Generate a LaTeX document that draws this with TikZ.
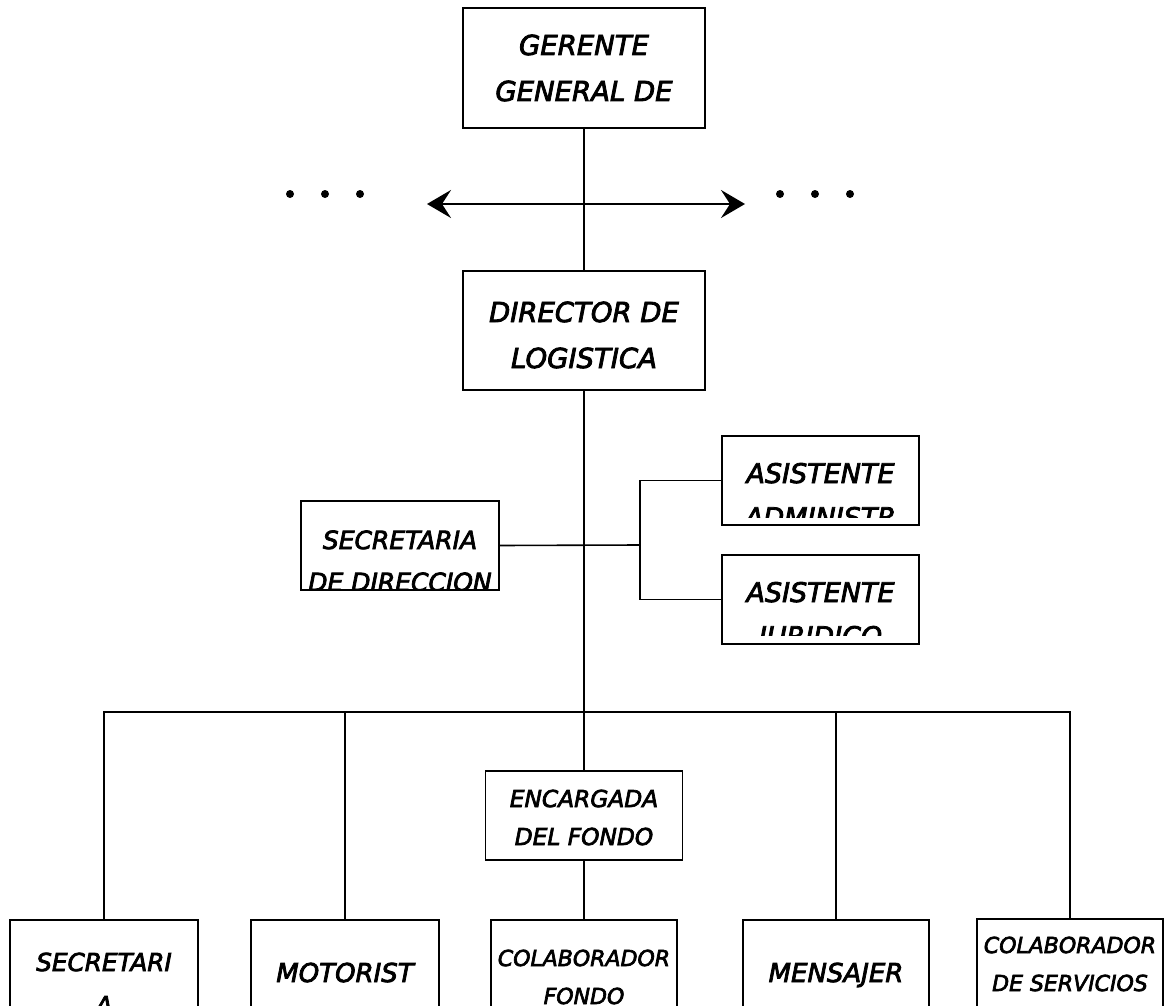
\documentclass[tikz,border=0pt]{standalone}
\usepackage{fontspec}
\newfontfamily\comic[FakeBold=3]{DejaVu Sans}
\usetikzlibrary{arrows.meta}
\tikzset{
 puesto/.style={draw, line width=1.6pt, inner sep=0pt},
 linea/.style={line width=1.6pt},
 texto/.style={anchor=base, inner sep=0pt},
 rotulo/.style n args={6}{path picture={
   \node[texto, font=\fontsize{#3}{#3}\comic\itshape] at ([yshift=-#4pt]path picture bounding box.north) {#1};
   \node[texto, font=\fontsize{#3}{#3}\comic\itshape] at ([yshift=-#4pt-#5pt]path picture bounding box.north) {#2};
   \fill[white] (path picture bounding box.south west) rectangle ([yshift=#6pt]path picture bounding box.south east);}},
}
\begin{document}
\begin{tikzpicture}[x=1pt, y=-1pt, >={Stealth[length=24pt, width=28pt, inset=9pt]}]
 \clip (0,0) rectangle (1165,1006);
 \fill[white] (0,0) rectangle (1165,1006);
 \node[puesto, minimum width=242, minimum height=120, rotulo={GERENTE}{GENERAL DE}{27.5}{47}{46}{0}] (gerente) at (584,68) {};
 \node[puesto, minimum width=242, minimum height=119, rotulo={DIRECTOR DE}{LOGISTICA}{27.5}{51}{46}{0}] (director) at (584,330.5) {};
 \node[puesto, minimum width=198, minimum height=89, rotulo={SECRETARIA}{DE DIRECCION}{25}{48}{42}{0}] (secretaria) at (400,545.5) {};
 \node[puesto, minimum width=197, minimum height=89, rotulo={ASISTENTE}{ADMINISTR}{27}{47}{44}{7}] (asisadm) at (820.5,480.5) {};
 \node[puesto, minimum width=197, minimum height=89, rotulo={ASISTENTE}{JURIDICO}{27}{47}{44}{8}] (asisjur) at (820.5,599.5) {};
 \node[puesto, minimum width=197, minimum height=89, rotulo={ENCARGADA}{DEL FONDO}{23.3}{36}{38}{0}] (encargada) at (584,815.5) {};
 \node[puesto, minimum width=188, minimum height=120, rotulo={SECRETARI}{A}{24.7}{51}{43}{0}] (secre) at (104,980) {};
 \node[puesto, minimum width=188, minimum height=120, rotulo={MOTORIST}{}{26}{62}{0}{0}] (motorista) at (345,980) {};
 \node[puesto, minimum width=186, minimum height=120, rotulo={COLABORADOR}{FONDO}{22}{46}{38}{0}] (colabfondo) at (584,980) {};
 \node[puesto, minimum width=186, minimum height=120, rotulo={MENSAJER}{}{26}{62}{0}{0}] (mensajero) at (836,980) {};
 \node[puesto, minimum width=186, minimum height=120, rotulo={COLABORADOR}{DE SERVICIOS}{22}{34}{38}{0}] (colabserv) at (1070,979) {};
 \coordinate (izq) at (427,204);
 \coordinate (der) at (745,204);
 \coordinate (rama) at (640,545);
 \coordinate (bus) at (584,712);
 \draw[linea] (gerente.south) -- (director.north);
 \draw[<->, line width=2.4pt] (izq) -- (der);
 \foreach \x in {290,325,360,780,815,850}
 {
     \fill (\x,194) circle (4pt);
 }
 \draw[linea] (director.south) -- (encargada.north);
 \draw[linea] (secretaria.east) -- (rama);
 \draw[linea] (asisadm.west) -| (rama) |- (asisjur.west);
 \draw[linea] (encargada.south) -- (colabfondo.north);
 \draw[linea] (secre.north) |- (bus) -| (colabserv.north);
 \draw[linea] (motorista.north) -- (motorista.north |- bus);
 \draw[linea] (mensajero.north) -- (mensajero.north |- bus);
\end{tikzpicture}
\end{document}
